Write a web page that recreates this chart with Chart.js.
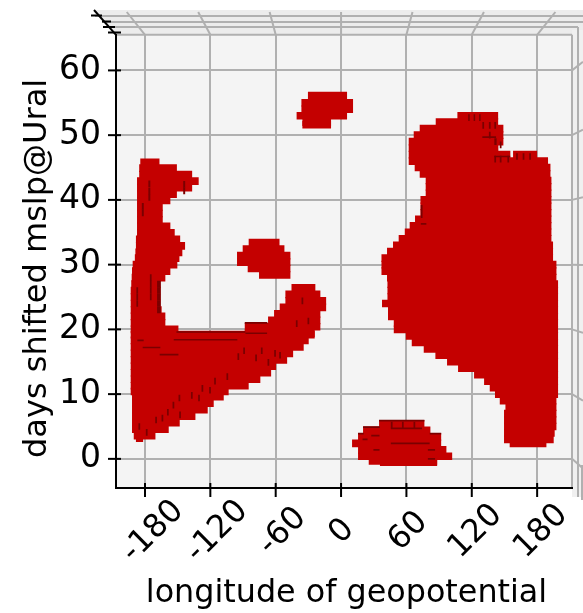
<!DOCTYPE html>
<html><head><meta charset="utf-8">
<style>html,body{margin:0;padding:0;background:#fff}canvas{display:block}</style>
<script src="https://cdn.jsdelivr.net/npm/chart.js@4/dist/chart.umd.min.js"></script>
</head><body><canvas id="c" width="583" height="613"></canvas>
<script>
const lonTicks=[-180,-120,-60,0,60,120,180];
const dayTicks=[0,10,20,30,40,50,60];
const lonLabelNudge=[8,7,7,1,2,4,4];
const xTitle="longitude of geopotential";
const yTitle="days shifted mslp@Ural";
// spans: [day, lonStart, lonEnd]
const southBlob=[[5.4,35.2,76.2],[4.4,20.5,81.7],[3.4,15.9,91.6],[2.4,10.4,91.6],[1.4,15.9,96.4],[0.4,15.9,101.7],[-0.3,25.7,87.9],[-0.5,36,87.9]];
const northBlob=[[56.1,-30.1,5.2],[55,-36.1,10.7],[54,-36.1,10.7],[53,-40.5,5.2],[52,-35.2,-9.5],[51.6,-35.2,-9.5]];
const midBlob=[[33.4,-84.5,-56.8],[32.4,-90,-52.3],[31.4,-95.2,-46.8],[30.4,-95.2,-46.8],[29.4,-85.4,-46.8],[28.4,-75,-46.8]];
const westColumn=[[45.8,-184,-167],[44.9,-185,-151],[43.9,-185,-137],[42.9,-187,-131],[41.9,-187,-137],[40.9,-187,-151],[39.9,-187,-157],[38.9,-187,-164],[37.9,-187,-164],[36.9,-187,-164],[35.9,-187,-157],[34.9,-187,-153],[33.9,-188,-148],[32.9,-188,-143.5],[31.9,-188.5,-146],[31,-189,-148.7],[30,-191,-150.6],[29,-191.6,-157],[28,-191.9,-161.6],[27,-192.3,-166],[26,-192.8,-166],[25,-192.8,-166],[24,-192.8,-166],[23,-192.8,-165],[22,-192.8,-161.6],[21,-192.8,-161.6],[20,-192.8,-149.6]];
const westTail=[[26.4,-45.2,-23.9],[25.4,-50.8,-19.3],[24.4,-50.8,-14],[23.4,-56,-14],[22.4,-61.2,-19.3],[21.4,-66.7,-19.3],[20.4,-88.1,-19.3],[19.4,-88.1,-24.5],[19.2,-192.8,-24.5],[18.3,-192.8,-30],[17.3,-192.8,-34.6],[16.3,-192.8,-44.3],[15.3,-192.8,-49.8],[14.3,-192.8,-59.9],[13.3,-192.8,-64.5],[12.3,-192.8,-74.4],[11.3,-192.8,-85.1],[10.4,-192.8,-103.5],[9.6,-191.6,-108],[8.6,-191.6,-117.2],[7.6,-191.6,-122.7],[6.6,-191.6,-134],[5.6,-191.6,-148.4],[4.6,-191.6,-158.5],[3.6,-190,-170.7],[3.2,-188,-182]];
const eastBlob=[[53,107.1,143.9],[52,87.2,143.9],[51,72.5,148.7],[50,67,148.7],[49,62.4,148.7],[48,62.4,144.1],[47,62.4,155.1],[47,158.2,179.7],[46,62.4,189.7],[45,67.9,191.9],[44,72.5,191.9],[43,78,192.8],[42,78,192.8],[41,78,192.8],[40,73.2,192.8],[39,73.2,192.8],[38,73.2,192.8],[37,68.2,192.8],[36,63.3,192.8],[35,58.8,192.8],[34,53.2,192.8],[33,48,194.3],[32,42.5,194.3],[31,37.4,194.3],[30,37.4,197.4],[29,37.4,197.4],[28,42.5,197.4],[27,42.9,198.9],[26,42.9,198.9],[25,42.9,198.9],[24,37.9,198.9],[23,43.4,198.9],[22,43.4,198.9],[21,48.7,198.9],[20,48.7,198.9],[19,59.7,198.9],[18,65.2,198.9],[17,76.2,198.9],[16,86.9,198.9],[15,97.6,198.9],[14,107.7,198.9],[13,122.4,198.9],[12,131.6,198.9],[11,136.8,198.9],[10,141.6,198.9],[9,146,197.4],[8,151.2,197.4],[7,149.9,197.4],[6,149.9,197.4],[5,149.9,197.4],[4,149.9,195.8],[3,149.9,194.9],[2.4,155.1,188.2]];
// darker voxel side faces showing between voxels
const shadeFaces=[[42.5,-176.6,-175.4],[41.4,-176.6,-175.4],[40.4,-176.6,-175.4],[39,-182.6,-181.4],[38,-182.6,-181.4],[42.4,-144.6,-143.4],[41.4,-144.6,-143.4],[26,-187.6,-186.6],[25,-187.6,-186.6],[24,-187.6,-186.6],[28,-175.2,-174.2],[27,-175.2,-174.2],[26,-175.2,-174.2],[25,-175.2,-174.2],[27,-168.6,-165.8],[26,-168.6,-165.8],[25,-168.6,-165.8],[24,-168.6,-165.8],[23,-168.6,-165.8],[12,-116.2,-115.2],[12.7,-104.9,-103.9],[10.9,-127.8,-126.8],[10.6,-120.8,-119.8],[9.8,-137.5,-136.5],[9.4,-130.9,-129.9],[9.4,-148.9,-147.9],[8.3,-154.4,-153.4],[7.2,-159.5,-158.5],[6.3,-164.5,-163.5],[6,-170.3,-169.3],[4.1,-178.9,-177.9],[5,-185.7,-184.7],[6.8,-148.3,-147.3],[15.8,-94.8,-93.8],[16.7,-89.5,-88.5],[15.6,-78.5,-77.5],[16.7,-73.3,-72.3],[14.9,-67.2,-66.2],[16.3,-61.1,-60.1],[16,-56.5,-55.5],[20.9,-41.2,-40.2],[24.4,-36,-35],[21.3,-30.5,-29.5],[5.2,46,47],[5.2,56.2,57.2],[5.2,66.8,67.8],[52.7,117,117.8],[52.7,122,122.8],[52.7,127,127.8],[51.5,130,131],[51.5,136,137],[51.5,141,142],[50,136,137],[49,141,142.5],[48.5,146,147],[46.3,141,142],[46.3,146,147],[46.3,153,154],[46.7,161,162],[46.7,167,168],[46.7,173,174],[38.7,73.5,74.5],[37.7,73.5,74.5]];
const shadeEdges=[[19.6,-150.8,-88.1],[21,-88.1,-67.9],[17.2,-181.8,-166.2],[16.1,-166.2,-149.6],[18.4,-153.3,-95.5],[19.4,-87.5,-68.2],[18.3,-186.7,-181.5],[5.9,35.2,76.2],[4.9,20.5,35.2],[3.9,15.9,20.5],[3.9,81.7,91.6],[4.7,46,74],[3.6,28,35],[2.4,46,81],[3,20,24],[1.4,30,35],[1.4,80,86],[0,80,86],[49.7,130,142],[46.7,141,155],[36.3,73.5,78]];
const spansToPoints=s=>s.map(([d,a,b])=>({y:d,x:[a,b]}));
const voxelSpans=[...southBlob,...northBlob,...midBlob,...westColumn,...westTail,...eastBlob];
const FF='"DejaVu Sans"';
const shiftTitle=(s,dx,dy)=>{if(s._shifted)return;s._shifted=true;const d=s.drawTitle;
 s.drawTitle=function(){this.ctx.save();this.ctx.translate(dx,dy);d.call(this);this.ctx.restore();};};
const frame3d={id:'frame3d',
 beforeDraw(ch){const {ctx,chartArea:a,scales:{x,y}}=ch;const L=a.left,R=a.right,T=a.top,B=a.bottom;
  ctx.save();
  ctx.fillStyle='#ececec';ctx.beginPath();ctx.moveTo(L,T);ctx.lineTo(L-22,10);ctx.lineTo(583,10);ctx.lineTo(583,T);ctx.closePath();ctx.fill();
  ctx.fillStyle='#f0f0f0';ctx.fillRect(R,T-5,11,B-T+14);
  ctx.fillStyle='#f4f4f4';ctx.fillRect(L,T,R-L,B-T);
  ctx.strokeStyle='#b0b0b0';ctx.lineWidth=2;
  const seg=(a1,b1,a2,b2)=>{ctx.beginPath();ctx.moveTo(a1,b1);ctx.lineTo(a2,b2);ctx.stroke();};
  seg(L-21,16,583,16);seg(L-14,22,583,22);seg(L-9,27,R+6,27);seg(L,T,R,T);
  seg(R,T,R,B);seg(R+6,27,R+6,B+9);seg(582,465,582,B+12);
  lonTicks.forEach(v=>{const p=x.getPixelForValue(v);seg(p,T,p+(p-341)*0.093,12);});
  dayTicks.forEach(v=>{const p=y.getPixelForValue(v);seg(R,p,583,p+(p-255)*0.047);});
  ctx.restore();},
 afterDraw(ch){const {ctx,chartArea:a,scales:{x,y}}=ch;
  ctx.save();ctx.strokeStyle='#000';ctx.lineWidth=2;
  const seg=(a1,b1,a2,b2)=>{ctx.beginPath();ctx.moveTo(a1,b1);ctx.lineTo(a2,b2);ctx.stroke();};
  lonTicks.forEach(v=>{const p=x.getPixelForValue(v);seg(p,a.bottom-5,p,a.bottom+9);});
  dayTicks.forEach(v=>{const p=y.getPixelForValue(v);seg(a.left-8,p,a.left+5,p);});
  seg(a.left,a.top,a.left-22,10);
  seg(91,15.5,102,15.5);seg(102,21.5,111,21.5);seg(103,27,115,27);seg(108,32.5,121,32.5);
  ctx.restore();}
};
new Chart(document.getElementById('c'),{
 type:'bar',
 data:{datasets:[
  {label:'voxels',data:spansToPoints(voxelSpans),backgroundColor:'#c40000',barThickness:7,grouped:false,order:3},
  {label:'side faces',data:spansToPoints(shadeFaces),backgroundColor:'#7a0000',barThickness:6,grouped:false,order:2},
  {label:'edges',data:spansToPoints(shadeEdges),backgroundColor:'#7a0000',barThickness:1,grouped:false,order:1}
 ]},
 options:{
  indexAxis:'y',responsive:false,animation:false,
  layout:{padding:{top:32,right:11,left:0,bottom:0}},
  plugins:{legend:{display:false},tooltip:{enabled:false}},
  scales:{
   x:{type:'linear',min:-206.6,max:212,offset:false,
    afterBuildTicks(s){s.ticks=lonTicks.map(v=>({value:v}));},
    afterFit(s){s.height=125;s.paddingLeft=0;s.paddingRight=0;s._getXAxisLabelAlignment=()=>'center';
     shiftTitle(s,2.5,0);
     if(!s._nudged){s._nudged=true;const c=s._computeLabelItems;s._computeLabelItems=function(ca){const it=c.call(this,ca);it.forEach((t,i)=>{t.options.translation[0]+=lonLabelNudge[i];});return it;};}},
    grid:{color:'#b0b0b0',lineWidth:2,drawTicks:false,offset:false},
    border:{color:'#000',width:2},
    ticks:{autoSkip:false,maxRotation:45,minRotation:45,padding:30,color:'#000',font:{family:FF,size:32},callback:v=>String(v)},
    title:{display:true,text:xTitle,color:'#000',font:{family:FF,size:31.8},padding:{top:0,bottom:0}}},
   y:{type:'linear',min:-4.5,max:65.5,offset:false,
    afterBuildTicks(s){s.ticks=dayTicks.map(v=>({value:v}));},
    afterFit(s){s.width=116;shiftTitle(s,0,7);},
    grid:{color:'#b0b0b0',lineWidth:2,drawTicks:false,offset:false},
    border:{color:'#000',width:2},
    ticks:{autoSkip:false,padding:15,color:'#000',font:{family:FF,size:33},callback:v=>String(v)},
    title:{display:true,text:yTitle,color:'#000',font:{family:FF,size:32},padding:{top:18,bottom:0}}}
  }
 },
 plugins:[frame3d]
});
</script></body></html>
